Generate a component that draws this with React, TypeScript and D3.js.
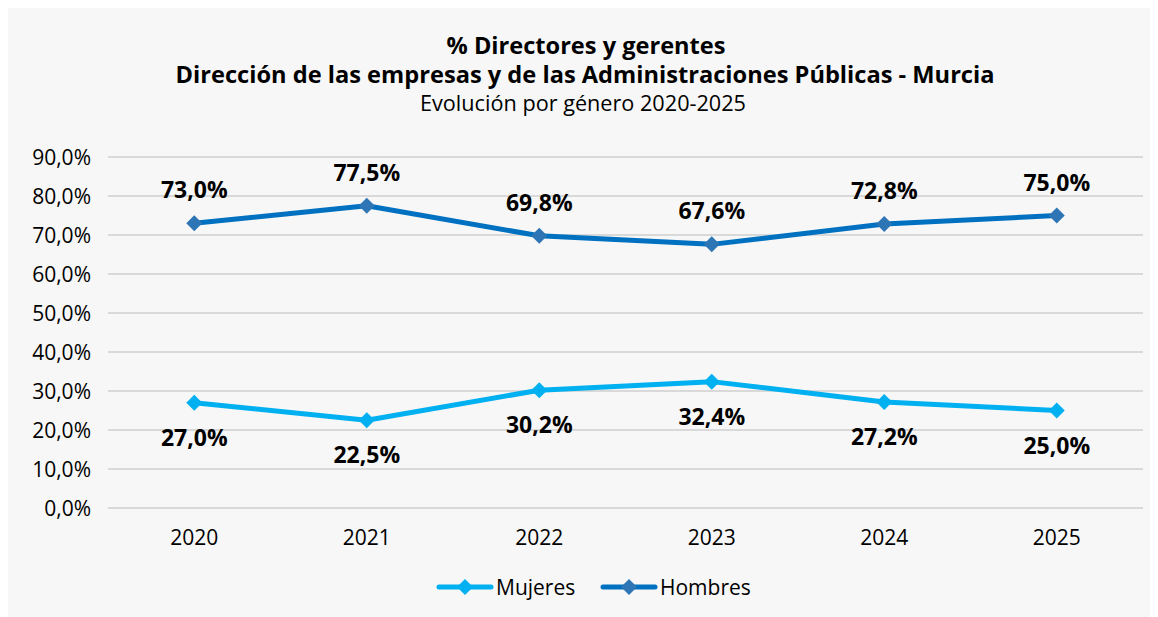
import React from "react";
import * as d3 from "d3";

const years = ["2020", "2021", "2022", "2023", "2024", "2025"];
const mujeres = [27.0, 22.5, 30.2, 32.4, 27.2, 25.0];
const hombres = [73.0, 77.5, 69.8, 67.6, 72.8, 75.0];
const yTicks = [0, 10, 20, 30, 40, 50, 60, 70, 80, 90];

const W = 1150;
const H = 609;
const FONT = "'Open Sans', 'Noto Sans', sans-serif";
const fmt = (v: number) => v.toFixed(1).replace(".", ",") + "%";

export default function App() {
  const left = 100, right = 1135, top = 149, bottom = 500;
  const x = d3.scaleBand<string>().domain(years).range([left, right]);
  const y = d3.scaleLinear().domain([0, 90]).range([bottom, top]);
  const cx = (yr: string) => (x(yr) as number) + x.bandwidth() / 2;
  const line = d3
    .line<number>()
    .x((_, i) => cx(years[i]))
    .y((d) => y(d));
  const diamond = (px: number, py: number, r: number) =>
    `M${px},${py - r}L${px + r},${py}L${px},${py + r}L${px - r},${py}Z`;

  const series = [
    { name: "Mujeres", data: mujeres, color: "#00b0f0", marker: "#00b0f0", above: false },
    { name: "Hombres", data: hombres, color: "#0070c0", marker: "#2e75b6", above: true },
  ];

  const legendY = 579;
  const legendItems = [
    { name: "Mujeres", x0: 429, color: "#00b0f0", marker: "#00b0f0" },
    { name: "Hombres", x0: 593, color: "#0070c0", marker: "#2e75b6" },
  ];

  return (
    <svg width={W} height={H} style={{ display: "block" }} fontFamily={FONT}>
      <rect x={0} y={0} width={W} height={H} fill="#f7f7f7" />
      <text x={578} y={46} textAnchor="middle" fontWeight="bold" fontSize={23} fill="#000"
        textLength={279} lengthAdjust="spacingAndGlyphs">
        % Directores y gerentes
      </text>
      <text x={577} y={75} textAnchor="middle" fontWeight="bold" fontSize={23} fill="#000"
        textLength={819} lengthAdjust="spacingAndGlyphs">
        Dirección de las empresas y de las Administraciones Públicas - Murcia
      </text>
      <text x={575} y={103} textAnchor="middle" fontSize={21} fill="#000"
        textLength={326} lengthAdjust="spacingAndGlyphs">
        Evolución por género 2020-2025
      </text>

      {yTicks.map((t) => (
        <g key={t}>
          <line x1={left} x2={right} y1={y(t)} y2={y(t)} stroke="#d9d9d9" strokeWidth={2} />
          <text x={83} y={y(t) + 8} textAnchor="end" fontSize={21} fill="#000">
            {fmt(t)}
          </text>
        </g>
      ))}

      {years.map((yr) => (
        <text key={yr} x={cx(yr)} y={bottom + 37} textAnchor="middle" fontSize={21} fill="#000">
          {yr}
        </text>
      ))}

      {series.map((s) => (
        <g key={s.name}>
          <path d={line(s.data) || ""} fill="none" stroke={s.color} strokeWidth={5}
            strokeLinejoin="round" strokeLinecap="round" />
          {s.data.map((v, i) => (
            <path key={i} d={diamond(cx(years[i]), y(v), 8)} fill={s.marker} />
          ))}
          {s.data.map((v, i) => (
            <text key={"l" + i} x={cx(years[i])} y={s.above ? y(v) - 25 : y(v) + 43}
              textAnchor="middle" fontWeight="bold" fontSize={23} fill="#000">
              {fmt(v)}
            </text>
          ))}
        </g>
      ))}

      {legendItems.map((l) => (
        <g key={l.name}>
          <line x1={l.x0 + 2} x2={l.x0 + 54} y1={legendY} y2={legendY} stroke={l.color}
            strokeWidth={5} strokeLinecap="round" />
          <path d={diamond(l.x0 + 28, legendY, 8)} fill={l.marker} />
          <text x={l.x0 + 59} y={legendY + 7.5} fontSize={21} fill="#000">
            {l.name}
          </text>
        </g>
      ))}
    </svg>
  );
}
